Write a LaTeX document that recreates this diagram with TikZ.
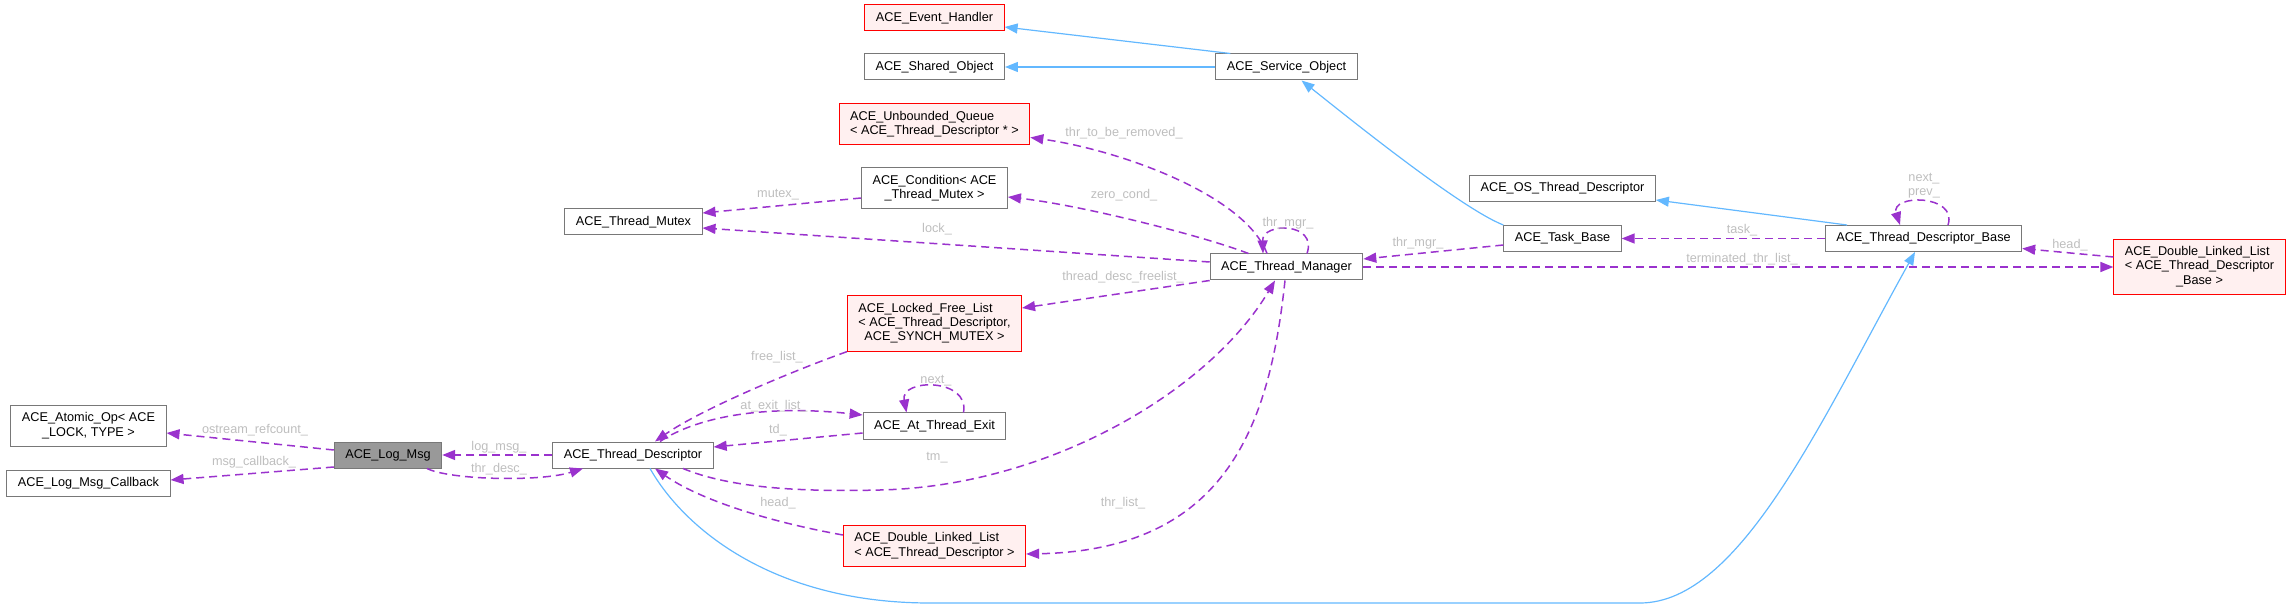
\documentclass[tikz,border=0pt]{standalone}
\usepackage{fontspec}
\setmainfont{Liberation Sans}
\usetikzlibrary{positioning,arrows.meta}

\definecolor{edgepurple}{HTML}{9A32CD}
\definecolor{edgeblue}{HTML}{63B8FF}
\definecolor{boxgray}{HTML}{787878}
\definecolor{labelgray}{HTML}{BEBEBE}
\definecolor{missingfill}{HTML}{FFF0F0}
\definecolor{curfill}{HTML}{999999}

\newcommand{\dfont}{\fontsize{12.7}{14.3}\selectfont}
% lines left aligned, last line centred
\newcommand{\classlabel}[2]{\begin{tabular}{@{}l@{}}#1\\\multicolumn{1}{@{}c@{}}{#2}\end{tabular}}

\tikzset{
    cls/.style={rectangle, draw=boxgray, fill=white, line width=1pt, inner xsep=11pt, inner ysep=6.2pt, minimum height=26pt, font=\dfont},
    ext/.style={cls, draw=red, fill=missingfill},
    current/.style={cls, fill=curfill},
    usage/.style={->, edgepurple, line width=1.5pt, dash pattern=on 8pt off 5pt},
    inherit/.style={->, edgeblue, line width=1.2pt},
    lbl/.style={text=labelgray, font=\dfont, inner sep=0pt}
}

\begin{document}
\begin{tikzpicture}[x=1pt, y=-1pt, node distance=50pt, >={Triangle[length=13pt, width=10pt]}]
    \useasboundingbox (0,0) rectangle (2292,609);

    % Thread manager and its bases
    \node[cls] (mgr) at (1286.5,267) {ACE\_Thread\_Manager};
    \node[cls, above of=mgr, yshift=150pt] (svcobj) {ACE\_Service\_Object};
    \node[cls, left of=svcobj, xshift=-302pt] (shobj) {ACE\_Shared\_Object};
    \node[ext, above of=shobj, yshift=-1pt] (evh) {ACE\_Event\_Handler};

    % Members of the manager
    \node[ext, below of=shobj, yshift=-7.5pt] (queue) {\classlabel{ACE\_Unbounded\_Queue}{< ACE\_Thread\_Descriptor * >}};
    \node[cls, below of=queue, yshift=-14pt] (cond) {\classlabel{ACE\_Condition< ACE}{\_Thread\_Mutex >}};
    \node[cls, left of=cond, xshift=-251pt, yshift=-33.5pt] (mutex) {ACE\_Thread\_Mutex};
    \node[ext, below of=cond, yshift=-85pt] (freelist) {\classlabel{ACE\_Locked\_Free\_List\\< ACE\_Thread\_Descriptor,}{ACE\_SYNCH\_MUTEX >}};
    \node[cls, below of=freelist, yshift=-52.5pt] (exit) {ACE\_At\_Thread\_Exit};
    \node[ext, below of=exit, yshift=-70pt] (dlltd) {\classlabel{ACE\_Double\_Linked\_List}{< ACE\_Thread\_Descriptor >}};

    % Thread descriptor and log message
    \node[cls, left of=exit, xshift=-251.5pt, yshift=-29pt] (desc) {ACE\_Thread\_Descriptor};
    \node[current, left of=desc, xshift=-195pt] (logmsg) {ACE\_Log\_Msg};
    \node[cls, left of=logmsg, xshift=-249.5pt, yshift=29pt] (atomic) {\classlabel{ACE\_Atomic\_Op< ACE}{\_LOCK, TYPE >}};
    \node[cls, below of=atomic, yshift=-7pt] (callback) {ACE\_Log\_Msg\_Callback};

    % Task and descriptor base
    \node[cls, right of=mgr, xshift=226pt, yshift=28.5pt] (taskbase) {ACE\_Task\_Base};
    \node[cls, above of=taskbase] (osdesc) {ACE\_OS\_Thread\_Descriptor};
    \node[cls, right of=taskbase, xshift=311pt] (tdbase) {ACE\_Thread\_Descriptor\_Base};
    \node[ext, right of=tdbase, xshift=226pt, yshift=-28.5pt] (dlltdb) {\classlabel{ACE\_Double\_Linked\_List\\< ACE\_Thread\_Descriptor}{\_Base >}};

    % Inheritance
    \draw[inherit] ([xshift=15pt]svcobj.north west) -- ([yshift=-9pt]evh.east);
    \draw[inherit] (svcobj) -- (shobj);
    \draw[inherit] (taskbase.north west) .. controls (1460,208) and (1345,115) .. ([xshift=15pt]svcobj.south);
    \draw[inherit] ([xshift=-76.5pt]tdbase.north) -- ([yshift=2pt]osdesc.south east);
    \draw[inherit] ([xshift=17pt]desc.south) .. controls (685,530) and (775,603) .. (930,603) -- (1640,603) .. controls (1740,603) and (1821,421) .. ([xshift=-8.5pt]tdbase.south);

    % Usage
    \draw[usage] ([xshift=-19.5pt]mgr.north) .. controls (1245,195) and (1120,150) .. ([yshift=-13pt]queue.east);
    \draw[usage] ([xshift=-38pt]mgr.north) .. controls (1200,235) and (1080,205) .. ([yshift=-8.5pt]cond.east);
    \draw[usage] ([yshift=-9.5pt]cond.west) -- ([yshift=9pt]mutex.east);
    \draw[usage] ([yshift=5pt]mgr.west) -- ([yshift=-6pt]mutex.east);
    \draw[usage] ([xshift=20.5pt]mgr.north) .. controls (1318,222) and (1262,222) .. ([xshift=-23.5pt]mgr.north);
    \draw[usage] (mgr.south west) -- ([yshift=15.5pt]freelist.east);
    \draw[usage] (freelist.south west) .. controls (790,372) and (700,410) .. ([xshift=22pt]desc.north);
    \draw[usage] ([xshift=27pt]desc.north) .. controls (700,415) and (770,405) .. ([yshift=11pt]exit.west);
    \draw[usage] ([yshift=-7pt]exit.west) -- ([yshift=8pt]desc.east);
    \draw[usage] ([xshift=29pt]exit.north) .. controls (970,378) and (900,378) .. ([xshift=-28pt]exit.north);
    \draw[usage] ([xshift=50pt]desc.south) .. controls (730,488) and (800,492) .. (880,490) .. controls (1050,486) and (1210,390) .. ([xshift=-11.5pt]mgr.south);
    \draw[usage] ([yshift=11pt]dlltd.west) .. controls (770,522) and (700,500) .. ([xshift=22pt]desc.south);
    \draw[usage] ([xshift=-1.5pt]mgr.south) .. controls (1270,420) and (1230,550) .. ([yshift=-8pt]dlltd.east);
    \draw[usage] (mgr) -- (dlltdb);
    \draw[usage] ([yshift=-6.5pt]taskbase.west) -- ([yshift=8pt]mgr.east);
    \draw[usage] (tdbase) -- (taskbase);
    \draw[usage] ([xshift=24.5pt]tdbase.north) .. controls (1958,194) and (1890,194) .. ([xshift=-23.5pt]tdbase.north);
    \draw[usage] ([yshift=10pt]dlltdb.west) -- ([yshift=-10pt]tdbase.east);
    \draw[usage] ([yshift=5pt]logmsg.west) -- ([yshift=-7pt]atomic.east);
    \draw[usage] ([yshift=-12pt]logmsg.west) -- ([yshift=3pt]callback.east);
    \draw[usage] (desc) -- (logmsg);
    \draw[usage] ([xshift=39pt]logmsg.south) .. controls (450,480) and (540,482) .. ([xshift=-50pt]desc.south);

    % Labels
    \node[lbl] (l_ostream) at (255,430) {ostream\_refcount\_};
    \node[lbl] (l_msgcb) at (254,462) {msg\_callback\_};
    \node[lbl] (l_logmsg) at (499,447) {log\_msg\_};
    \node[lbl] (l_thrdesc) at (499,469) {thr\_desc\_};
    \node[lbl] (l_mutex) at (778,195) {mutex\_};
    \node[lbl] (l_lock) at (937,229) {lock\_};
    \node[lbl] (l_zerocond) at (1124,195) {zero\_cond\_};
    \node[lbl] (l_remove) at (1124,133) {thr\_to\_be\_removed\_};
    \node[lbl] (l_mgrloop) at (1288,223) {thr\_mgr\_};
    \node[lbl] (l_freelist) at (1123,277) {thread\_desc\_freelist\_};
    \node[lbl] (l_free) at (777,357) {free\_list\_};
    \node[lbl] (l_atexit) at (774,406) {at\_exit\_list\_};
    \node[lbl] (l_td) at (778,430) {td\_};
    \node[lbl] (l_next) at (936,381) {next\_};
    \node[lbl] (l_tm) at (937,458) {tm\_};
    \node[lbl] (l_head) at (778,503) {head\_};
    \node[lbl] (l_thrlist) at (1123,503) {thr\_list\_};
    \node[lbl] (l_thrmgr) at (1418,243) {thr\_mgr\_};
    \node[lbl] (l_terminated) at (1742,259) {terminated\_thr\_list\_};
    \node[lbl] (l_task) at (1742,230) {task\_};
    \node[lbl, align=center] (l_nextprev) at (1924,186) {next\_\\prev\_};
    \node[lbl] (l_headb) at (2070,245) {head\_};

\end{tikzpicture}
\end{document}
